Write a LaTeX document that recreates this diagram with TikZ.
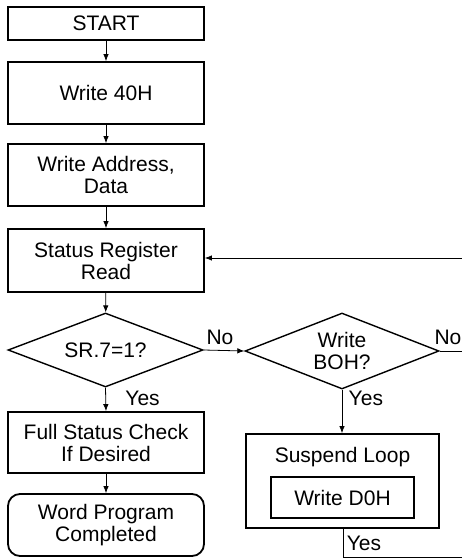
\documentclass[tikz,border=0pt]{standalone}
\usepackage{fontspec}
\setmainfont{Liberation Sans}
\usetikzlibrary{shapes.geometric,arrows.meta}
\begin{document}
\begin{tikzpicture}[x=1pt,y=-1pt,
    font=\fontsize{21}{22}\selectfont,
    box/.style={shape=rectangle,draw=black,line width=1.8pt,minimum width=196pt,align=center,inner sep=0pt},
    dec/.style={shape=diamond,draw=black,line width=1.4pt,shape aspect=2.6,align=center,inner sep=0pt},
    arr/.style={-{Latex[length=7pt,width=5.5pt]},line width=0.8pt},
    ln/.style={line width=0.8pt}]
        \useasboundingbox (0,0) rectangle (462,559);
        \node[box,minimum height=33pt] (start) at (106,23.5) {START};
        \node[box,minimum height=62pt] (w40) at (106,93) {Write 40H};
        \node[box,minimum height=62pt] (wad) at (106,175) {Write Address,\\Data};
        \node[box,minimum height=63pt] (srr) at (106,260.5) {Status Register\\Read};
        \node[dec,minimum width=195pt,minimum height=74pt] (sr7) at (105.5,350) {SR.7=1?};
        \node[box,minimum height=61pt] (fsc) at (106,442.5) {Full Status Check\\If Desired};
        \node[box,rounded corners=12pt,minimum height=62pt] (wpc) at (106,525) {Word Program\\Completed};
        \node[dec,minimum width=194pt,minimum height=76pt] (wboh) at (342,351) {Write\\BOH?};
        \node[box,minimum width=193pt,minimum height=94pt] (susp) at (342.5,481) {};
        \node (susplbl) at (342.5,457) {Suspend Loop};
        \node[box,minimum width=143pt,minimum height=41pt] (wd0h) at (342.5,497.5) {Write D0H};
        \coordinate (loopin) at (462,258);
        \coordinate (noout) at (462,351);
        \coordinate (yesdown) at (343,557);
        \coordinate (yesout) at (462,557);
        \path [arr](start) edge (w40);
        \path [arr](w40) edge (wad);
        \path [arr](wad) edge (srr);
        \path [arr](srr) edge (sr7);
        \path [arr](loopin) edge (loopin -| srr.east);
        \path [arr](sr7.east) edge node[pos=0.4,above=2pt]{No} (wboh.west);
        \path [arr](sr7.south) edge node[pos=0.45,right=16pt]{Yes} (fsc.north);
        \path [arr](fsc) edge (wpc);
        \path [ln](wboh.east) edge node[pos=0.37,above=3pt]{No} (noout);
        \path [arr](wboh.south) edge node[pos=0.2,right=3pt]{Yes} (wboh.south |- susp.north);
        \draw [ln](yesdown |- susp.south) -- (yesdown) -- (yesout);
        \node (yeslbl) at (364,543) {Yes};
    \end{tikzpicture}
\end{document}
